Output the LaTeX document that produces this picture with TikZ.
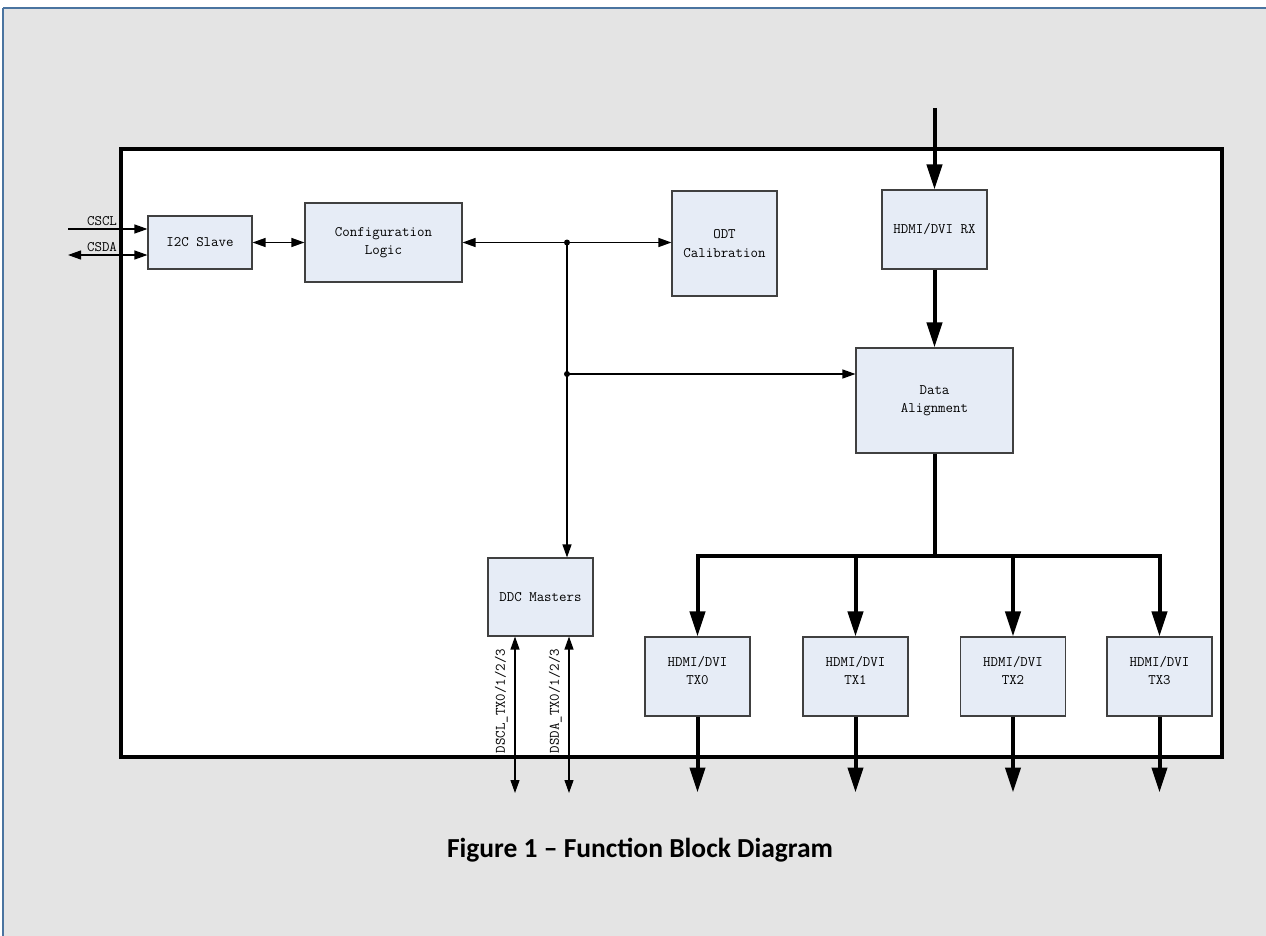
\documentclass[tikz,border=0pt]{standalone}
\usepackage{fontspec}
\newfontfamily\capfont{Carlito}
\usetikzlibrary{arrows.meta}
\definecolor{bggray}{HTML}{E4E4E4}
\definecolor{frameblue}{HTML}{4A74A0}
\definecolor{boxfill}{HTML}{E6ECF6}
\definecolor{boxline}{HTML}{404040}
\tikzset{
  blk/.style={draw=boxline, fill=boxfill, line width=1.1pt, inner sep=0pt, align=center,
    font=\ttfamily\fontsize{14.5}{18.5}\selectfont},
  lbl/.style={font=\ttfamily\fontsize{14.5}{16}\selectfont, inner sep=0pt},
  thinline/.style={line width=1.2pt},
  thinarr/.style={thinline, -{Triangle[length=13pt,width=9pt]}},
  thinbi/.style={thinline, {Triangle[length=13pt,width=9pt]}-{Triangle[length=13pt,width=9pt]}},
  thickline/.style={line width=4pt},
  thickarr/.style={thickline, -{Triangle[length=25pt,width=15pt]}},
  dot/.style={circle, fill=black, inner sep=0pt, minimum size=6pt},
}
\begin{document}
\begin{tikzpicture}[x=1pt,y=-1pt]
\useasboundingbox (0,0) rectangle (1266,936);
% background
\fill[white] (0,0) rectangle (1266,936);
\fill[bggray] (3,8) rectangle (1266,936);
\draw[frameblue, line width=2.5pt] (3,8) -- (1266,8);
\draw[frameblue, line width=1.2pt] (3,8) -- (3,936);
% main chip frame
\draw[line width=4pt, fill=white] (121,149) rectangle (1222,757);
% blocks
\node[blk, minimum width=104pt, minimum height=53pt] (i2c) at (200,242.5) {I2C Slave};
\node[blk, minimum width=157pt, minimum height=79pt] (cfg) at (383.5,242.5) {Configuration\\Logic};
\node[blk, minimum width=105pt, minimum height=105pt] (odt) at (724.5,243.5) {ODT\\Calibration};
\node[blk, minimum width=105pt, minimum height=79pt] (rx) at (934.5,229.5) {HDMI/DVI RX};
\node[blk, minimum width=157pt, minimum height=105pt] (da) at (934.5,400.5) {Data\\Alignment};
\node[blk, minimum width=105pt, minimum height=78pt] (ddc) at (540.5,597) {DDC Masters};
\node[blk, minimum width=105pt, minimum height=79pt, text depth=12pt] (tx0) at (697.5,676.5) {HDMI/DVI\\TX0};
\node[blk, minimum width=105pt, minimum height=79pt, text depth=12pt] (tx1) at (855.5,676.5) {HDMI/DVI\\TX1};
\node[blk, minimum width=105pt, minimum height=79pt, text depth=12pt] (tx2) at (1013,676.5) {HDMI/DVI\\TX2};
\node[blk, minimum width=105pt, minimum height=79pt, text depth=12pt] (tx3) at (1159.5,676.5) {HDMI/DVI\\TX3};
% external I2C
\coordinate (cscl) at (68,229);
\coordinate (csda) at (68,255);
\draw[thinarr] (cscl) -- (cscl -| i2c.west);
\draw[thinbi] (csda) -- (csda -| i2c.west);
\node[lbl, anchor=south] (lcscl) at (102,226) {CSCL};
\node[lbl, anchor=south] (lcsda) at (102,252) {CSDA};
% internal control bus
\draw[thinbi] (i2c.east) -- (cfg.west);
\draw[thinbi] (cfg.east) -- (cfg.east -| odt.west);
\node[dot] (j1) at (567,242.5) {};
\node[dot] (j2) at (567,374) {};
\draw[thinline] (j1.center) -- (j2.center);
\draw[thinarr] (j2.center) -- (ddc.north -| j2);
\draw[thinarr] (j2.center) -- (j2 -| da.west);
% DDC lines
\coordinate (d1) at (515,793);
\coordinate (d2) at (569,793);
\draw[thinbi] (d1) -- (ddc.south -| d1);
\draw[thinbi] (d2) -- (ddc.south -| d2);
\node[lbl, rotate=90, anchor=south] (ldscl) at (508,701) {DSCL\_TX0/1/2/3};
\node[lbl, rotate=90, anchor=south] (ldsda) at (562,701) {DSDA\_TX0/1/2/3};
% video path
\coordinate (rxin) at (934.5,108);
\draw[thickarr] (rxin) -- (rx.north);
\draw[thickarr] (rx.south) -- (da.north);
\coordinate (bus) at (934.5,556);
\draw[thickline] (da.south) -- (bus);
\draw[thickline, line cap=rect] (bus -| tx0) -- (bus -| tx3);
\foreach \t in {tx0,tx1,tx2,tx3}{
  \draw[thickarr] (bus -| \t) -- (\t.north);
  \path (\t.south) ++(0,76) coordinate (\t out);
  \draw[thickarr] (\t.south) -- (\t out);
}
% caption
\node[font=\capfont\bfseries\fontsize{27.5}{32}\selectfont] (cap) at (640,850) {Figure 1 – Function Block Diagram};
\end{tikzpicture}
\end{document}
